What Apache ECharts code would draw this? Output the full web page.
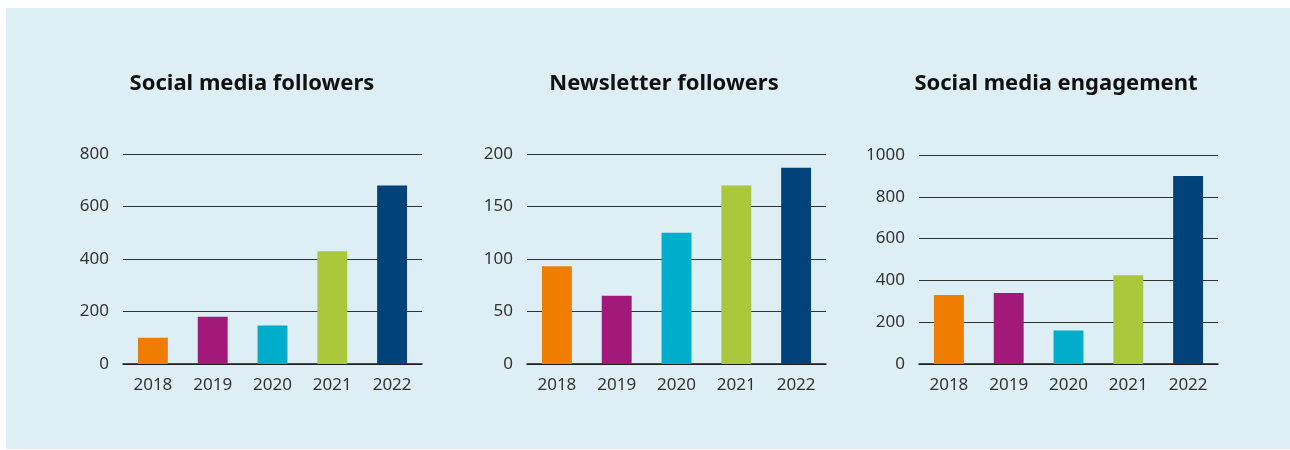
<!DOCTYPE html>
<html>
<head>
<meta charset="utf-8">
<script src="https://cdn.jsdelivr.net/npm/echarts@6/dist/echarts.min.js"></script>
<style>
  html, body { margin: 0; padding: 0; background: #ffffff; }
  #chart { width: 1290px; height: 450px; }
</style>
</head>
<body>
<div id="chart"></div>
<script>
// Yearly figures for the three panels
const years = ['2018', '2019', '2020', '2021', '2022'];
const socialFollowers = [100, 180, 147, 430, 680];
const newsletterFollowers = [93, 65, 125, 170, 187];
const socialEngagement = [330, 340, 160, 425, 900];

const panelTitles = ['Social media followers', 'Newsletter followers', 'Social media engagement'];
const yMax = [800, 200, 1000];
const yStep = [200, 50, 200];

// one colour per year
const yearColors = ['#ef7d00', '#a3197a', '#00aecb', '#aac83c', '#00437a'];

const FONT = '"Noto Sans", "Open Sans", sans-serif';
const panels = [socialFollowers, newsletterFollowers, socialEngagement];

const gridPos = [
  { left: 123, top: 154, width: 299, height: 210 },
  { left: 527, top: 154, width: 299, height: 210 },
  { left: 919, top: 155, width: 299, height: 209 }
];
const titleCenters = [247, 659, 1051];

const chart = echarts.init(document.getElementById('chart'), null, { renderer: 'canvas' });

const option = {
  backgroundColor: '#ffffff',
  animation: false,
  graphic: [{
    type: 'rect',
    z: -10,
    shape: { x: 6, y: 8, width: 1284, height: 441 },
    style: { fill: '#ddeff5' }
  }],
  title: panelTitles.map((t, i) => ({
    text: t,
    left: titleCenters[i],
    top: 68,
    textAlign: 'center',
    textStyle: { fontFamily: FONT, fontWeight: 'bold', fontSize: 22, color: '#111111' }
  })),
  grid: gridPos.map(g => Object.assign({ containLabel: false }, g)),
  xAxis: panels.map((_, i) => ({
    type: 'category',
    gridIndex: i,
    data: years,
    axisTick: { show: false },
    axisLine: { show: true, lineStyle: { color: '#1a1a1a', width: 1.5 } },
    axisLabel: { fontFamily: FONT, fontSize: 17, color: '#333333', margin: 13 }
  })),
  yAxis: panels.map((_, i) => ({
    type: 'value',
    gridIndex: i,
    min: 0,
    max: yMax[i],
    interval: yStep[i],
    axisLine: { show: false },
    axisTick: { show: false },
    splitLine: { show: true, lineStyle: { color: '#333333', width: 1 } },
    axisLabel: {
      fontFamily: FONT, fontSize: 17, color: '#333333', margin: 14,
      formatter: v => String(v)
    }
  })),
  series: panels.map((vals, i) => ({
    type: 'bar',
    xAxisIndex: i,
    yAxisIndex: i,
    barWidth: '50%',
    z: 3,
    data: vals.map((v, k) => ({ value: v, itemStyle: { color: yearColors[k] } }))
  }))
};

chart.setOption(option);
</script>
</body>
</html>
